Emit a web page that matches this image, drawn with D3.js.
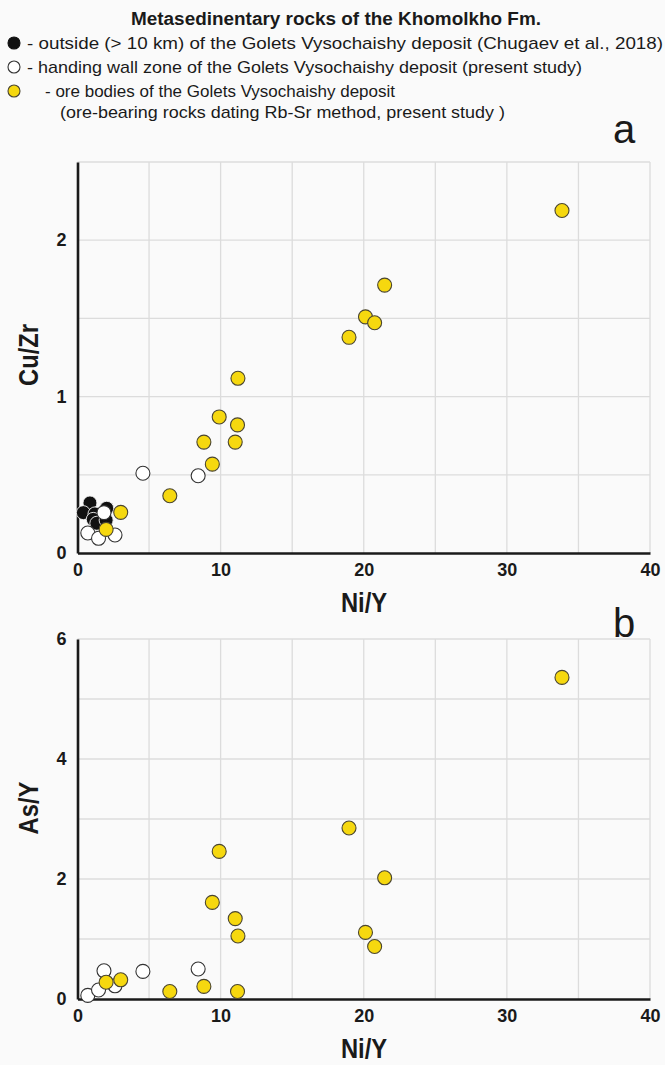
<!DOCTYPE html>
<html><head><meta charset="utf-8">
<script src="https://cdn.jsdelivr.net/npm/d3@7"></script>
<style>html,body{margin:0;padding:0;background:#fafafa;}svg{display:block;}</style>
</head><body>
<svg id="c" width="665" height="1065"></svg>
<script>
// ---- data ----
const blackNiY  = [0.87, 0.41, 2.04, 1.22, 1.1, 1.35, 2.0];
const blackCuZr = [0.32, 0.258, 0.286, 0.25, 0.215, 0.19, 0.21];

const whiteNiY  = [4.57, 8.43, 0.72, 1.47, 2.62, 1.85];
const whiteCuZr = [0.51, 0.494, 0.128, 0.094, 0.115, 0.258];
const whiteAsY  = [0.46, 0.5, 0.06, 0.15, 0.22, 0.47];

const oreNiY  = [33.85, 21.46, 20.12, 20.76, 18.97, 11.21, 9.9, 11.18, 8.83, 11.02, 9.42, 6.45, 3.02, 2.0];
const oreCuZr = [2.19, 1.713, 1.51, 1.472, 1.379, 1.117, 0.87, 0.819, 0.709, 0.709, 0.568, 0.366, 0.26, 0.151];
const oreAsY  = [5.36, 2.02, 1.11, 0.875, 2.85, 1.05, 2.46, 0.125, 0.21, 1.34, 1.61, 0.125, 0.32, 0.28];

const xTicks = [0, 10, 20, 30, 40];
const xGrid = [5, 10, 15, 20, 25, 30, 35, 40];
const cuTicks = [0, 1, 2];
const cuGrid = [0.5, 1, 1.5, 2, 2.5];
const asTicks = [0, 2, 4, 6];
const asGrid = [1, 2, 3, 4, 5, 6];

const legendTitle = "Metasedinentary rocks of the Khomolkho Fm.";
const legendRows = [
  "- outside (> 10 km) of the Golets Vysochaishy deposit (Chugaev et al., 2018)",
  "- handing wall zone of the Golets Vysochaishy deposit (present study)",
  "- ore bodies of the Golets Vysochaishy deposit",
  "(ore-bearing rocks dating Rb-Sr method, present study )"
];

// ---- drawing ----
const svg = d3.select("#c");
const FONT = "'Liberation Sans', Arial, sans-serif";
const YELLOW = "#f6d80f";
const INK = "#1a1a1a";

const x = d3.scaleLinear().domain([0, 40]).range([77.5, 650]);

function panel(yDom, yRange, grid, ticks, yLabel, yLabelY, letter, letterY, series) {
  const y = d3.scaleLinear().domain(yDom).range(yRange);
  const g = svg.append("g");
  // grid
  g.selectAll(".hg").data(grid).join("line")
    .attr("x1", x(0)).attr("x2", x(40))
    .attr("y1", d => y(d)).attr("y2", d => y(d))
    .attr("stroke", "#dcdcdc").attr("stroke-width", 1.3);
  g.selectAll(".vg").data(xGrid).join("line")
    .attr("x1", d => x(d)).attr("x2", d => x(d))
    .attr("y1", y(yDom[0])).attr("y2", y(yDom[1]))
    .attr("stroke", "#dcdcdc").attr("stroke-width", 1.3);
  // axes
  const xa = g.append("g").attr("transform", `translate(0,${y(0)})`)
    .call(d3.axisBottom(x).tickValues(xTicks).tickFormat(d3.format("d")).tickSize(0).tickPadding(10));
  xa.attr("font-size", null).attr("font-family", null);
  xa.select(".domain").attr("stroke", INK).attr("stroke-width", 2.6);
  xa.selectAll("text").style("font-family", FONT).style("font-weight", "bold")
    .style("font-size", "18px").attr("fill", INK);
  const ya = g.append("g").attr("transform", `translate(${x(0)},0)`)
    .call(d3.axisLeft(y).tickValues(ticks).tickFormat(d3.format("d")).tickSize(0).tickPadding(11));
  ya.attr("font-size", null).attr("font-family", null);
  ya.select(".domain").attr("stroke", INK).attr("stroke-width", 2.6);
  ya.selectAll("text").style("font-family", FONT).style("font-weight", "bold")
    .style("font-size", "18px").attr("fill", INK);
  // labels
  g.append("text").attr("transform", `translate(364,${y(0) + 59}) scale(0.88,1)`)
    .attr("text-anchor", "middle")
    .attr("font-family", FONT).attr("font-weight", "bold").attr("font-size", 27)
    .attr("fill", INK).text("Ni/Y");
  g.append("text").attr("transform", `translate(38,${yLabelY}) rotate(-90) scale(0.88,1)`)
    .attr("text-anchor", "middle").attr("font-family", FONT).attr("font-weight", "bold")
    .attr("font-size", 27).attr("fill", INK).text(yLabel);
  g.append("text").attr("x", 624).attr("y", letterY).attr("text-anchor", "middle")
    .attr("font-family", FONT).attr("font-size", 40).attr("fill", INK).text(letter);
  // points
  series.forEach(s => {
    const pts = s.xs.map((v, i) => [v, s.ys[i]]);
    g.append("g").selectAll("circle").data(pts).join("circle")
      .attr("cx", d => x(d[0])).attr("cy", d => y(d[1])).attr("r", 7)
      .attr("fill", s.fill).attr("stroke", s.stroke).attr("stroke-width", s.sw);
  });
}

panel([0, 2.5], [553, 162], cuGrid, cuTicks, "Cu/Zr", 355, "a", 143, [
  {xs: blackNiY, ys: blackCuZr, fill: "#111", stroke: "#f4f4f4", sw: 0.9},
  {xs: whiteNiY, ys: whiteCuZr, fill: "#fff", stroke: "#333", sw: 1.1},
  {xs: oreNiY, ys: oreCuZr, fill: YELLOW, stroke: "#4a4530", sw: 1.1}
]);
panel([0, 6], [999, 639], asGrid, asTicks, "As/Y", 808, "b", 637, [
  {xs: whiteNiY, ys: whiteAsY, fill: "#fff", stroke: "#333", sw: 1.1},
  {xs: oreNiY, ys: oreAsY, fill: YELLOW, stroke: "#4a4530", sw: 1.1}
]);

// legend
svg.append("text").attr("x", 131).attr("y", 25)
  .attr("font-family", FONT).attr("font-weight", "bold").attr("font-size", 18)
  .attr("textLength", 410).attr("lengthAdjust", "spacingAndGlyphs")
  .attr("fill", INK).text(legendTitle);
const legSym = [
  {fill: "#111", stroke: "#111", cy: 43},
  {fill: "#fff", stroke: "#333", cy: 67},
  {fill: YELLOW, stroke: "#4a4530", cy: 91}
];
svg.selectAll(".ls").data(legSym).join("circle")
  .attr("cx", 14).attr("cy", d => d.cy).attr("r", 6)
  .attr("fill", d => d.fill).attr("stroke", d => d.stroke).attr("stroke-width", 1.1);
const rowPos = [[27, 49, 636], [27, 73, 555], [45, 97, 350], [60, 118, 445]];
legendRows.forEach((t, i) => {
  svg.append("text").attr("x", rowPos[i][0]).attr("y", rowPos[i][1])
    .attr("font-family", FONT).attr("font-size", 17).attr("fill", INK)
    .attr("textLength", rowPos[i][2]).attr("lengthAdjust", "spacingAndGlyphs")
    .text(t);
});
</script>
</body></html>
